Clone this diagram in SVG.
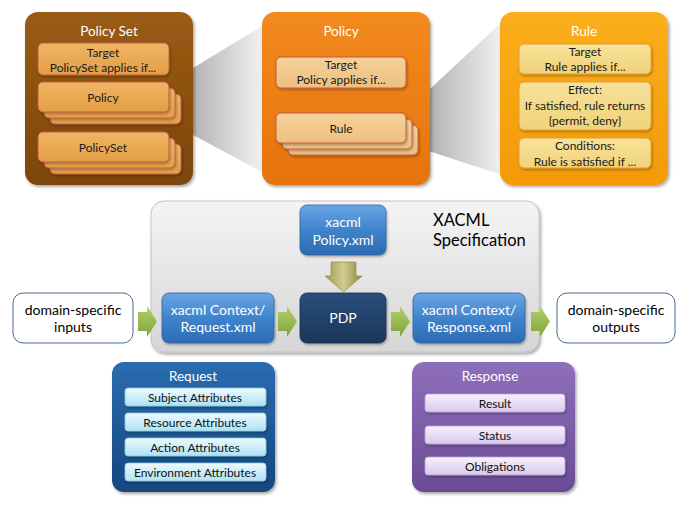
<svg xmlns="http://www.w3.org/2000/svg" width="687" height="505" viewBox="0 0 687 505">
<defs>
<linearGradient id="beam" x1="0" y1="0" x2="1" y2="0"><stop offset="0" stop-color="#9c9c9c"/><stop offset="1" stop-color="#f2f2f2"/></linearGradient>
<linearGradient id="gBrown" x1="0" y1="0" x2="0" y2="1"><stop offset="0" stop-color="#9a5c14"/><stop offset="1" stop-color="#7c4508"/></linearGradient>
<linearGradient id="gOrange" x1="0" y1="0" x2="0" y2="1"><stop offset="0" stop-color="#f28a1e"/><stop offset="1" stop-color="#e6730c"/></linearGradient>
<linearGradient id="gAmber" x1="0" y1="0" x2="0" y2="1"><stop offset="0" stop-color="#fbae1c"/><stop offset="1" stop-color="#f39a05"/></linearGradient>
<linearGradient id="gTan" x1="0" y1="0" x2="0" y2="1"><stop offset="0" stop-color="#f0b565"/><stop offset="1" stop-color="#e39f45"/></linearGradient>
<linearGradient id="gLtan" x1="0" y1="0" x2="0" y2="1"><stop offset="0" stop-color="#f5d19a"/><stop offset="1" stop-color="#eec07f"/></linearGradient>
<linearGradient id="gYel" x1="0" y1="0" x2="0" y2="1"><stop offset="0" stop-color="#f8e29a"/><stop offset="1" stop-color="#f1d27a"/></linearGradient>
<linearGradient id="gSpec" x1="0" y1="0" x2="0" y2="1"><stop offset="0" stop-color="#f4f4f4"/><stop offset="1" stop-color="#d6d6d6"/></linearGradient>
<linearGradient id="gBlue" x1="0" y1="0" x2="0" y2="1"><stop offset="0" stop-color="#6aa6e2"/><stop offset="0.5" stop-color="#3f84cc"/><stop offset="1" stop-color="#2c6bb4"/></linearGradient>
<linearGradient id="gNavy" x1="0" y1="0" x2="0" y2="1"><stop offset="0" stop-color="#2b4f7e"/><stop offset="1" stop-color="#1a3458"/></linearGradient>
<linearGradient id="gReq" x1="0" y1="0" x2="0" y2="1"><stop offset="0" stop-color="#2a6cb0"/><stop offset="1" stop-color="#14477e"/></linearGradient>
<linearGradient id="gResp" x1="0" y1="0" x2="0" y2="1"><stop offset="0" stop-color="#8f6fbb"/><stop offset="1" stop-color="#6a4b93"/></linearGradient>
<linearGradient id="gCyan" x1="0" y1="0" x2="0" y2="1"><stop offset="0" stop-color="#eefafe"/><stop offset="1" stop-color="#ace2f5"/></linearGradient>
<linearGradient id="gLav" x1="0" y1="0" x2="0" y2="1"><stop offset="0" stop-color="#f7f2fc"/><stop offset="1" stop-color="#d8c9ec"/></linearGradient>
<linearGradient id="gGreen" x1="0" y1="0" x2="0" y2="1"><stop offset="0" stop-color="#b3d06a"/><stop offset="1" stop-color="#7ea33a"/></linearGradient>
<linearGradient id="gOlive" x1="0" y1="0" x2="1" y2="0"><stop offset="0" stop-color="#a39a5a"/><stop offset="0.5" stop-color="#d4cc8c"/><stop offset="1" stop-color="#8e8446"/></linearGradient>
<filter id="sh" x="-10%" y="-10%" width="125%" height="125%"><feDropShadow dx="1.5" dy="2" stdDeviation="1.8" flood-color="#000" flood-opacity="0.35"/></filter>
<filter id="sh2" x="-10%" y="-20%" width="125%" height="150%"><feDropShadow dx="1" dy="1.5" stdDeviation="1" flood-color="#000" flood-opacity="0.3"/></filter>
</defs>
<style>
text{font-family:Lato,"Open Sans","Liberation Sans",sans-serif;text-anchor:middle}
.title{fill:#fff;font-size:13.5px}
.sub{font-size:12px;fill:#1a1a1a}
.ps{fill:url(#gTan);stroke:#c65a4a;stroke-width:1}
.po{fill:url(#gLtan);stroke:#c65a4a;stroke-width:1}
.ru{fill:url(#gYel);stroke:#e0a030;stroke-width:1}
.wt{fill:#fff;font-size:14px}
.bk{fill:#000;font-size:14px}
.cy{fill:url(#gCyan);stroke:#8cc8e0;stroke-width:0.8}
.lv{fill:url(#gLav);stroke:#b8a4d6;stroke-width:0.8}
.sm{font-size:12px;fill:#111}
.ga{fill:url(#gGreen)}
</style>

<g id="beams">
<polygon points="165,85 264,25 264,173 165,120" fill="url(#beam)"/>
<polygon points="404,113 502,22 502,175 404,143" fill="url(#beam)"/>
</g>

<g id="policyset">
<rect x="25" y="12" width="168" height="173" rx="13" fill="url(#gBrown)" filter="url(#sh)"/>
<text class="title" x="109" y="36">Policy Set</text>
<rect class="ps" x="38" y="43" width="131" height="32" rx="5" filter="url(#sh2)"/>
<text class="sub" x="103" y="56.5">Target</text>
<text class="sub" x="103" y="71.5">PolicySet applies if...</text>
<rect class="ps" x="50" y="94" width="131" height="30" rx="5" filter="url(#sh2)"/>
<rect class="ps" x="44" y="88" width="131" height="30" rx="5" filter="url(#sh2)"/>
<rect class="ps" x="38" y="82" width="131" height="30" rx="5" filter="url(#sh2)"/>
<text class="sub" x="103" y="101.5">Policy</text>
<rect class="ps" x="50" y="144" width="131" height="30" rx="5" filter="url(#sh2)"/>
<rect class="ps" x="44" y="138" width="131" height="30" rx="5" filter="url(#sh2)"/>
<rect class="ps" x="38" y="132" width="131" height="30" rx="5" filter="url(#sh2)"/>
<text class="sub" x="103" y="151.5">PolicySet</text>
</g>

<g id="policy">
<rect x="262" y="12" width="168" height="173" rx="13" fill="url(#gOrange)" filter="url(#sh)"/>
<text class="title" x="341" y="36">Policy</text>
<rect class="po" x="276" y="57" width="130" height="31" rx="5" filter="url(#sh2)"/>
<text class="sub" x="341" y="68.5">Target</text>
<text class="sub" x="341" y="84">Policy applies if...</text>
<rect class="po" x="288" y="125" width="130" height="30" rx="5" filter="url(#sh2)"/>
<rect class="po" x="282" y="119" width="130" height="30" rx="5" filter="url(#sh2)"/>
<rect class="po" x="276" y="113" width="130" height="30" rx="5" filter="url(#sh2)"/>
<text class="sub" x="341" y="132.5">Rule</text>
</g>

<g id="rule">
<rect x="500" y="12" width="168" height="173" rx="13" fill="url(#gAmber)" filter="url(#sh)"/>
<text class="title" x="584" y="36">Rule</text>
<rect class="ru" x="519" y="44" width="132" height="30" rx="5" filter="url(#sh2)"/>
<text class="sub" x="585" y="56">Target</text>
<text class="sub" x="585" y="71">Rule applies if...</text>
<rect class="ru" x="519" y="82" width="132" height="48" rx="5" filter="url(#sh2)"/>
<text class="sub" x="585" y="94">Effect:</text>
<text class="sub" x="585" y="110">If satisfied, rule returns</text>
<text class="sub" x="585" y="125">{permit, deny}</text>
<rect class="ru" x="519" y="138" width="132" height="30" rx="5" filter="url(#sh2)"/>
<text class="sub" x="585" y="150">Conditions:</text>
<text class="sub" x="585" y="166">Rule is satisfied if ...</text>
</g>

<g id="spec">
<rect x="151" y="201" width="388" height="151" rx="13" fill="url(#gSpec)" stroke="#c4c4c4" stroke-width="1" filter="url(#sh)"/>
<text x="433" y="226" font-size="16.5" style="text-anchor:start">XACML</text>
<text x="433" y="246" font-size="16.5" style="text-anchor:start">Specification</text>
</g>

<g id="policyxml">
<rect x="300" y="205" width="86" height="50" rx="7" fill="url(#gBlue)" stroke="#2a64a6" stroke-width="0.8" filter="url(#sh2)"/>
<text class="wt" x="343" y="227">xacml</text>
<text class="wt" x="343" y="245">Policy.xml</text>
</g>

<g id="pdp">
<rect x="300" y="293" width="86" height="50" rx="7" fill="url(#gNavy)" stroke="#16304f" stroke-width="0.8" filter="url(#sh2)"/>
<text class="wt" x="343" y="323">PDP</text>
</g>

<g id="request-xml">
<rect x="162" y="293" width="112" height="50" rx="7" fill="url(#gBlue)" stroke="#2a64a6" stroke-width="0.8" filter="url(#sh2)"/>
<text class="wt" x="218" y="315">xacml Context/</text>
<text class="wt" x="218" y="332">Request.xml</text>
</g>

<g id="response-xml">
<rect x="413" y="293" width="112" height="50" rx="7" fill="url(#gBlue)" stroke="#2a64a6" stroke-width="0.8" filter="url(#sh2)"/>
<text class="wt" x="469" y="315">xacml Context/</text>
<text class="wt" x="469" y="332">Response.xml</text>
</g>

<g id="inputs">
<rect x="13" y="293" width="120" height="50" rx="10" fill="#fff" stroke="#4a6a90" stroke-width="1"/>
<text class="bk" x="73" y="315">domain-specific</text>
<text class="bk" x="73" y="332">inputs</text>
</g>

<g id="outputs">
<rect x="557" y="293" width="118" height="50" rx="10" fill="#fff" stroke="#4a6a90" stroke-width="1"/>
<text class="bk" x="616" y="315">domain-specific</text>
<text class="bk" x="616" y="332">outputs</text>
</g>

<g id="request">
<rect x="112" y="362" width="163" height="130" rx="12" fill="url(#gReq)" filter="url(#sh)"/>
<text class="title" x="193" y="380.5">Request</text>
<rect class="cy" x="125" y="388" width="141" height="18" rx="3" filter="url(#sh2)"/>
<text class="sm" x="195" y="401.5">Subject Attributes</text>
<rect class="cy" x="125" y="413" width="141" height="18" rx="3" filter="url(#sh2)"/>
<text class="sm" x="195" y="426.5">Resource Attributes</text>
<rect class="cy" x="125" y="438" width="141" height="18" rx="3" filter="url(#sh2)"/>
<text class="sm" x="195" y="451.5">Action Attributes</text>
<rect class="cy" x="125" y="463" width="141" height="18" rx="3" filter="url(#sh2)"/>
<text class="sm" x="195" y="476.5">Environment Attributes</text>
</g>

<g id="response">
<rect x="412" y="362" width="163" height="130" rx="12" fill="url(#gResp)" filter="url(#sh)"/>
<text class="title" x="490" y="380.5">Response</text>
<rect class="lv" x="425" y="394" width="140" height="18" rx="3" filter="url(#sh2)"/>
<text class="sm" x="495" y="407.5">Result</text>
<rect class="lv" x="425" y="426" width="140" height="18" rx="3" filter="url(#sh2)"/>
<text class="sm" x="495" y="439.5">Status</text>
<rect class="lv" x="425" y="457" width="140" height="18" rx="3" filter="url(#sh2)"/>
<text class="sm" x="495" y="470.5">Obligations</text>
</g>

<g id="connectors">
<polygon class="ga" points="138,312 147,312 147,306 157,321.5 147,337 147,331 138,331"/>
<polygon class="ga" points="278,312 287,312 287,306 297,321.5 287,337 287,331 278,331"/>
<polygon class="ga" points="391,312 400,312 400,306 410,321.5 400,337 400,331 391,331"/>
<polygon class="ga" points="531,312 540,312 540,306 550,321.5 540,337 540,331 531,331"/>
<polygon points="331,262 356,262 356,276 362,276 343.5,292 325,276 331,276" fill="url(#gOlive)" stroke="#8a8040" stroke-width="0.6"/>
</g>
</svg>
